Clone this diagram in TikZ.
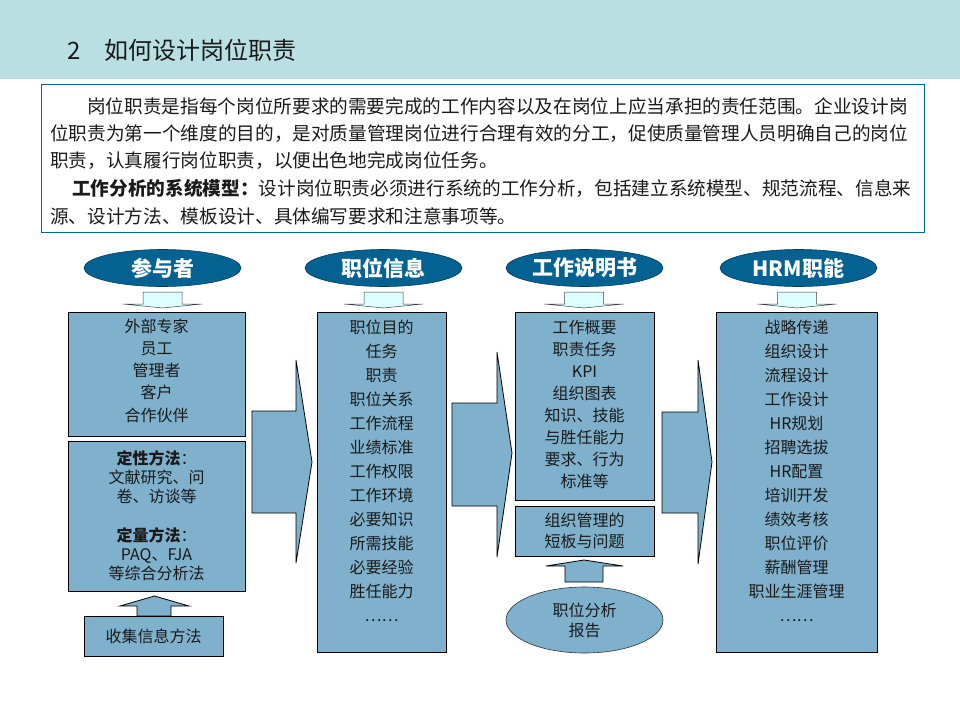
\documentclass[tikz,border=0pt]{standalone}
\usepackage{fontspec}
\setmainfont{Noto Sans CJK SC}
\usetikzlibrary{shapes.geometric}

\definecolor{bandcol}{RGB}{185,223,227}
\definecolor{framecol}{RGB}{0,102,153}
\definecolor{hdrcol}{RGB}{4,98,146}
\definecolor{boxcol}{RGB}{127,177,205}
\definecolor{arrcol}{RGB}{221,255,255}
\definecolor{txtcol}{RGB}{26,26,26}

\tikzset{
  hdr/.style={ellipse, fill=hdrcol, draw=hdrcol!60!black, line width=0.6pt,
    minimum width=157pt, minimum height=37pt, inner sep=0pt, text=white,
    font=\fontsize{21}{21}\selectfont\bfseries},
  box/.style={rectangle, fill=boxcol, draw=black, line width=0.8pt, inner sep=0pt},
  txt/.style={align=center, inner sep=0pt, text=txtcol},
  line/.style={anchor=west, inner sep=0pt, text=txtcol, font=\fontsize{18.65}{18.65}\selectfont},
  smallarr/.style={fill=arrcol, draw=black!75, line width=0.5pt},
  bigarr/.style={fill=boxcol, draw=black, line width=0.8pt}
}

\begin{document}
\begin{tikzpicture}[x=1pt, y=-1pt]
\useasboundingbox (0,0) rectangle (960,720);

%%%%%%%%% title band
\fill[bandcol] (0,0) rectangle (960,79);
\node[anchor=west, inner sep=0pt, text=txtcol, font=\fontsize{24}{24}\selectfont] (title) at (67,50) {2\quad 如何设计岗位职责};

%%%%%%%%% intro text
\node[draw=framecol, line width=1pt, minimum width=883pt, minimum height=148pt, inner sep=0pt] (intro) at (482.5,158) {};
\node[line] (l1) at (87,106) {岗位职责是指每个岗位所要求的需要完成的工作内容以及在岗位上应当承担的责任范围。企业设计岗};
\node[line] (l2) at (50,133.5) {位职责为第一个维度的目的，是对质量管理岗位进行合理有效的分工，促使质量管理人员明确自己的岗位};
\node[line] (l3) at (50,161) {职责，认真履行岗位职责，以便出色地完成岗位任务。};
\node[line] (l4) at (72,188.5) {{\bfseries 工作分析的系统模型：}设计岗位职责必须进行系统的工作分析，包括建立系统模型、规范流程、信息来};
\node[line] (l5) at (50,216) {源、设计方法、模板设计、具体编写要求和注意事项等。};

%%%%%%%%% headers
\node[hdr] (who) at (162.5,268) {参与者};
\node[hdr] (info) at (383.5,268) {职位信息};
\node[hdr] (jd) at (584.5,268) {工作说明书};
\node[hdr] (hrm) at (798.5,268) {HRM职能};

%%%%%%%%% small arrows under headers
\foreach \cx in {162.5,383.5,584,797}
  \filldraw[smallarr] ({\cx-19.5},292) -- ({\cx+19.5},292) -- ({\cx+19.5},304) -- ({\cx+39.5},304)
    -- (\cx,308) -- ({\cx-39.5},304) -- ({\cx-19.5},304) -- cycle;

%%%%%%%%% big arrows
\filldraw[bigarr] (252,411) -- (296,411) -- (296,360) -- (312,462) -- (296,563) -- (296,513) -- (252,513) -- cycle;
\filldraw[bigarr] (452,403) -- (497,403) -- (497,352) -- (512,453) -- (497,557) -- (497,506) -- (452,506) -- cycle;
\filldraw[bigarr] (662,412) -- (698,412) -- (698,360) -- (712,462) -- (698,564) -- (698,513) -- (662,513) -- cycle;

%%%%%%%%% column 1
\node[box, minimum width=177pt, minimum height=124pt] (whobox) at (156.5,374) {};
\node[txt, font=\fontsize{16}{22.2}\selectfont] (whotext) at (156.5,370.5) {外部专家\\员工\\管理者\\客户\\合作伙伴};
\node[box, minimum width=177pt, minimum height=150pt] (method) at (156.5,516) {};
\node[txt, font=\fontsize{16}{19.2}\selectfont] (methodtext) at (156.5,515.5)
  {{\bfseries 定性方法}：\\文献研究、问\\卷、访谈等\\[19.2pt]{\bfseries 定量方法}：\\PAQ、FJA\\等综合分析法};
\filldraw[bigarr] (137,616) -- (137,606) -- (120,606) -- (154.5,596) -- (189,606) -- (171,606) -- (171,616) -- cycle;
\node[box, minimum width=139pt, minimum height=40pt, text=txtcol, font=\fontsize{16}{16}\selectfont] (collect) at (153.5,636) {收集信息方法};

%%%%%%%%% column 2
\node[box, minimum width=129pt, minimum height=340pt] (infobox) at (381.5,482) {};
\node[txt, font=\fontsize{16}{24}\selectfont] (infotext) at (381.5,471)
  {职位目的\\任务\\职责\\职位关系\\工作流程\\业绩标准\\工作权限\\工作环境\\必要知识\\所需技能\\必要经验\\胜任能力\\……};

%%%%%%%%% column 3
\node[box, minimum width=139pt, minimum height=188pt] (jdbox) at (584.5,406) {};
\node[txt, font=\fontsize{16}{22}\selectfont] (jdtext) at (584.5,404)
  {工作概要\\职责任务\\KPI\\组织图表\\知识、技能\\与胜任能力\\要求、行为\\标准等};
\node[box, minimum width=139pt, minimum height=50pt, align=center, text=txtcol, font=\fontsize{16}{21}\selectfont] (gap) at (584.5,531) {组织管理的\\短板与问题};
\filldraw[bigarr] (565,582) -- (565,566) -- (546,566) -- (584,560) -- (623,566) -- (603,566) -- (603,582) -- cycle;
\node[ellipse, fill=boxcol, draw=black!80, line width=0.6pt, minimum width=157pt, minimum height=66pt, inner sep=0pt,
  align=center, text=txtcol, font=\fontsize{16}{20}\selectfont] (report) at (584.5,620) {职位分析\\报告};

%%%%%%%%% column 4
\node[box, minimum width=161pt, minimum height=340pt] (hrmbox) at (796.5,482) {};
\node[txt, font=\fontsize{16}{24}\selectfont] (hrmtext) at (796.5,471)
  {战略传递\\组织设计\\流程设计\\工作设计\\HR规划\\招聘选拔\\HR配置\\培训开发\\绩效考核\\职位评价\\薪酬管理\\职业生涯管理\\……};

\end{tikzpicture}
\end{document}
